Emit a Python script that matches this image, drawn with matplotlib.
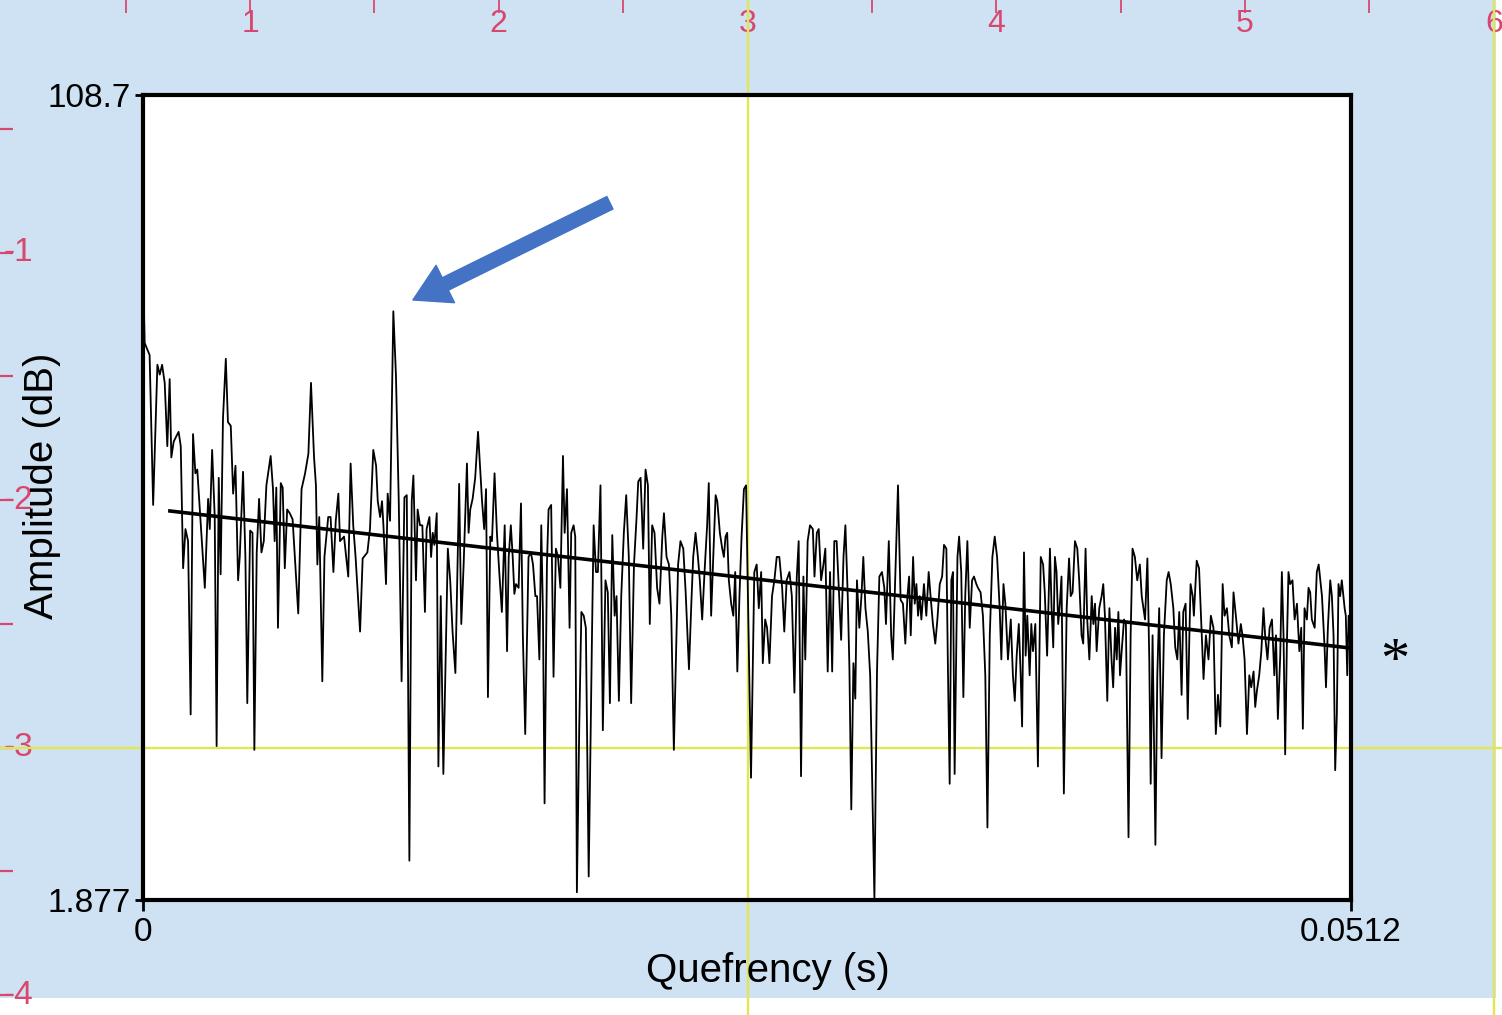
import matplotlib
matplotlib.use("Agg")
import matplotlib.pyplot as plt
import matplotlib.transforms as mtransforms
from matplotlib.patches import Rectangle
import numpy as np

plt.rcParams['font.family'] = ['Liberation Sans', 'DejaVu Sans']

# cepstrum trace (quefrency in ms, amplitude in dB)
quefrency_ms = [
    0.00, 0.07, 0.28, 0.43, 0.61, 0.71, 0.81, 0.92, 1.03, 1.13,
    1.20, 1.30, 1.41, 1.51, 1.60, 1.70, 1.80, 1.91, 2.02, 2.12,
    2.22, 2.30, 2.47, 2.62, 2.76, 2.83, 2.93, 3.04, 3.12, 3.21,
    3.29, 3.39, 3.51, 3.60, 3.72, 3.82, 3.92, 4.03, 4.10, 4.24,
    4.34, 4.42, 4.54, 4.64, 4.72, 4.82, 4.92, 5.02, 5.12, 5.23,
    5.41, 5.51, 5.58, 5.65, 5.72, 5.84, 5.92, 6.01, 6.11, 6.22,
    6.34, 6.58, 6.72, 6.87, 7.01, 7.12, 7.25, 7.33, 7.39, 7.47,
    7.60, 7.69, 7.85, 7.95, 8.07, 8.17, 8.28, 8.35, 8.52, 8.70,
    8.80, 8.91, 9.01, 9.20, 9.31, 9.51, 9.62, 9.76, 9.88, 9.95,
    10.05, 10.13, 10.19, 10.30, 10.37, 10.47, 10.61, 10.72, 10.84, 10.96,
    11.08, 11.18, 11.29, 11.39, 11.46, 11.57, 11.64, 11.74, 11.84, 11.95,
    12.02, 12.14, 12.21, 12.28, 12.35, 12.45, 12.52, 12.62, 12.73,
    12.92, 13.02, 13.12, 13.24, 13.40, 13.49, 13.59, 13.73, 13.80, 13.87,
    13.97, 14.08, 14.20, 14.29, 14.37, 14.46, 14.54, 14.62, 14.72, 14.79,
    14.90, 15.00, 15.10, 15.21, 15.33, 15.43, 15.50, 15.59, 15.67, 15.74,
    15.81, 15.92, 16.02, 16.10, 16.20, 16.34, 16.44, 16.53, 16.63, 16.70,
    16.80, 16.88, 16.95, 17.02, 17.12, 17.19, 17.30, 17.40, 17.50, 17.59,
    17.69, 17.80, 17.87, 17.97, 18.08, 18.15, 18.25, 18.32, 18.39, 18.49,
    18.58, 18.68, 18.77, 18.89, 19.03, 19.10, 19.20,
    19.28, 19.39, 19.49, 19.60, 19.70, 19.79, 19.89, 19.99, 20.07, 20.17,
    20.27, 20.38, 20.48, 20.59, 20.69, 20.81, 20.92, 20.99, 21.09, 21.20,
    21.30, 21.40, 21.48, 21.58, 21.68, 21.79, 21.89, 22.01, 22.08, 22.19,
    22.29, 22.39, 22.50, 22.68, 22.78, 22.90, 23.00, 23.14, 23.24, 23.32,
    23.42, 23.52, 23.60, 23.70, 23.80, 23.91, 23.98, 24.08, 24.17, 24.27,
    24.34, 24.45, 24.55, 24.62, 24.69, 24.76, 24.83, 24.93, 25.02, 25.10,
    25.19, 25.28, 25.37, 25.47,
    25.56, 25.77, 25.91, 26.01, 26.10, 26.20, 26.27, 26.37, 26.45, 26.55,
    26.66, 26.76, 26.86, 26.97, 27.09, 27.18, 27.28, 27.40, 27.50, 27.61,
    27.71, 27.79, 27.89, 27.99, 28.07, 28.17, 28.27, 28.39, 28.46, 28.56,
    28.64, 28.74, 28.84, 28.92, 29.02, 29.12, 29.21, 29.30, 29.40, 29.49,
    29.59, 29.69, 29.77, 29.87, 29.94, 30.02, 30.11, 30.19, 30.26, 30.36,
    30.45, 30.53, 30.62, 30.72, 30.82, 31.00, 31.11, 31.21, 31.32, 31.42,
    31.49, 31.61, 31.71, 31.78, 31.89,
    32.00, 32.11, 32.21, 32.31, 32.40, 32.47, 32.54, 32.64, 32.71, 32.78,
    32.85, 32.92, 32.99, 33.10, 33.20, 33.30, 33.38, 33.48, 33.58, 33.67,
    33.77, 33.87, 33.95, 34.05, 34.12, 34.19, 34.26, 34.33, 34.40, 34.52,
    34.59, 34.68, 34.77, 34.85, 34.94, 35.04, 35.14, 35.22, 35.32, 35.39,
    35.50, 35.60, 35.70, 35.79, 35.89, 36.00, 36.10, 36.20, 36.31, 36.38,
    36.47, 36.55, 36.66, 36.78, 36.87, 36.95, 37.03, 37.12, 37.20, 37.26,
    37.34, 37.41, 37.48, 37.58, 37.65, 37.72, 37.82, 37.93, 38.05, 38.15,
    38.22, 38.32,
    38.44, 38.51, 38.58, 38.65, 38.72, 38.79, 38.86, 38.93, 39.03, 39.15,
    39.25, 39.32, 39.40, 39.50, 39.60, 39.68, 39.78, 39.85, 39.95, 40.02,
    40.11, 40.21, 40.28, 40.35, 40.42, 40.53, 40.63, 40.70, 40.77, 40.87,
    40.96, 41.05, 41.12, 41.20, 41.27, 41.34, 41.41, 41.48, 41.58, 41.66,
    41.77, 41.86, 41.94, 42.04, 42.14, 42.25, 42.33, 42.40, 42.47, 42.57,
    42.65, 42.71, 42.79, 42.91, 42.99, 43.07, 43.17, 43.27, 43.39, 43.47,
    43.56, 43.67, 43.75, 43.84, 43.92, 44.02, 44.09, 44.19, 44.28, 44.35,
    44.40, 44.49, 44.54, 44.66, 44.76, 44.83,
    44.95, 45.05, 45.16, 45.26, 45.37, 45.47, 45.56, 45.66, 45.76, 45.84,
    45.94, 46.04, 46.15, 46.22, 46.32, 46.43, 46.53, 46.60, 46.69, 46.79,
    46.89, 46.97, 47.07, 47.14, 47.21, 47.31, 47.40, 47.49, 47.56, 47.66,
    47.75, 47.85, 47.95, 48.02, 48.10, 48.20, 48.27, 48.34, 48.41, 48.48,
    48.55, 48.62, 48.72, 48.81, 48.91, 49.01, 49.09, 49.16, 49.23, 49.33,
    49.40, 49.47, 49.54, 49.66, 49.75, 49.83, 49.90, 49.97, 50.08, 50.14,
    50.22, 50.32, 50.39, 50.46, 50.53, 50.60, 50.67, 50.74, 50.81, 50.93,
    50.98, 51.04, 51.10, 51.20,
]
amplitude_db = [
    86.0, 75.8, 74.2, 54.3, 72.9, 71.6, 72.9, 70.5, 62.1, 71.0,
    60.6, 62.7, 63.4, 64.0, 62.1, 45.9, 51.1, 49.5, 26.5, 63.7,
    58.5, 59.0, 50.6, 43.3, 55.1, 51.1, 61.6, 52.7, 22.3, 57.9,
    45.1, 65.8, 73.7, 65.3, 64.8, 55.8, 59.5, 44.3, 47.4, 58.7,
    47.4, 28.0, 50.9, 50.6, 21.8, 48.0, 55.1, 48.0, 49.5, 56.9,
    60.8, 56.4, 49.5, 56.6, 38.0, 57.2, 56.6, 45.9, 53.7, 53.2,
    52.4, 39.9, 56.4, 58.5, 61.1, 70.5, 60.6, 56.9, 46.4, 52.7,
    30.9, 47.4, 52.7, 52.7, 45.4, 52.2, 55.8, 49.5, 50.1, 44.8,
    59.8, 51.6, 47.4, 37.5, 47.2, 48.0, 51.1, 61.6, 59.5, 54.8,
    52.7, 54.8, 51.6, 43.8, 55.8, 52.2, 80.0, 71.6, 54.8, 30.9,
    55.3, 55.6, 7.1, 54.8, 58.2, 44.3, 53.7, 51.6, 51.6, 40.1,
    51.1, 52.7, 47.4, 50.6, 49.0, 53.2, 19.6, 42.2, 18.6,
    48.5, 44.3, 37.5, 32.0, 57.1, 38.5, 46.4, 59.8, 50.6, 53.7,
    55.1, 57.9, 64.0, 59.0, 54.8, 51.1, 56.4, 28.8, 50.1, 49.5,
    58.5, 50.6, 45.4, 40.1, 51.6, 34.9, 47.4, 51.6, 47.4, 42.5,
    43.8, 43.3, 54.5, 37.0, 23.9, 47.4, 48.0, 46.4, 42.2, 42.2,
    33.8, 51.6, 40.1, 14.7, 46.4, 53.7, 54.3, 31.5, 48.5, 47.4,
    43.3, 60.8, 50.6, 56.4, 38.0, 50.6, 51.6, 50.1, 2.9, 24.9,
    40.1, 39.6, 38.0, 5.0, 37.0, 51.6, 45.4,
    45.4, 56.9, 24.4, 44.3, 42.7, 28.0, 50.3, 39.6, 42.2, 28.3,
    42.2, 50.6, 55.6, 47.4, 28.0, 46.4, 52.7, 57.4, 57.9, 48.5,
    59.0, 56.9, 38.5, 51.6, 50.6, 43.3, 41.2, 50.1, 53.2, 47.4,
    46.4, 39.6, 21.8, 46.4, 49.5, 48.5, 42.7, 32.5, 41.2, 47.4,
    50.6, 47.4, 44.3, 39.1, 45.4, 51.6, 57.2, 39.6, 47.4, 55.6,
    54.8, 50.6, 48.5, 47.4, 50.1, 50.6, 44.3, 41.2, 39.6, 45.4,
    32.2, 42.2, 50.1, 56.4,
    56.9, 18.1, 45.4, 46.4, 40.6, 45.4, 33.3, 39.1, 38.0, 33.3,
    42.2, 44.3, 47.4, 47.4, 43.3, 37.5, 44.3, 45.4, 42.2, 29.4,
    44.8, 49.5, 18.3, 44.8, 33.8, 49.5, 51.6, 51.1, 44.8, 50.6,
    51.1, 44.3, 46.4, 48.5, 32.2, 45.4, 32.2, 49.5, 49.5, 43.3,
    36.4, 47.4, 51.6, 42.2, 32.8, 13.9, 33.3, 28.6, 44.3, 38.0,
    42.2, 47.4, 40.6, 37.5, 31.7, 2.1, 32.2, 44.8, 45.4, 43.3,
    38.5, 49.5, 37.0, 33.8, 45.4,
    56.9, 41.7, 41.2, 35.9, 42.2, 44.8, 37.0, 47.4, 41.2, 43.8,
    39.6, 42.2, 39.1, 43.8, 39.6, 45.4, 42.2, 38.5, 35.9, 39.1,
    43.8, 44.8, 49.0, 48.5, 31.7, 17.3, 44.3, 45.4, 18.6, 47.4,
    50.1, 45.4, 28.8, 42.2, 49.5, 38.0, 44.3, 44.8, 43.8, 43.3,
    42.7, 39.6, 31.7, 11.5, 37.0, 47.4, 50.1, 47.4, 40.6, 33.8,
    43.8, 41.2, 33.8, 39.1, 31.7, 28.3, 34.3, 38.5, 31.7, 24.9,
    48.0, 34.3, 39.6, 31.7, 38.5, 34.9, 38.5, 19.6, 47.4, 46.4,
    42.7, 34.3,
    48.5, 40.6, 35.4, 47.4, 45.4, 38.5, 41.2, 44.8, 16.0, 40.6,
    47.2, 42.2, 42.7, 49.5, 48.5, 44.3, 37.0, 35.9, 48.5, 39.1,
    33.8, 42.2, 38.5, 41.2, 34.9, 40.6, 42.2, 43.8, 39.6, 28.3,
    40.6, 33.8, 30.1, 38.0, 33.8, 40.1, 31.7, 34.9, 39.1, 38.5,
    10.2, 37.0, 48.5, 47.4, 44.3, 46.4, 42.2, 40.6, 39.1, 47.2,
    33.8, 17.3, 37.0, 9.2, 31.7, 40.6, 20.7, 37.0, 44.3, 45.4,
    43.8, 40.6, 35.4, 33.8, 40.1, 29.1, 40.1, 41.2, 25.9, 37.0,
    43.8, 42.2, 39.6, 46.9, 45.9, 40.6,
    31.2, 37.0, 33.8, 39.6, 38.0, 23.9, 29.1, 24.9, 43.8, 39.6,
    40.6, 37.0, 35.4, 42.7, 39.6, 35.9, 38.5, 37.0, 33.8, 23.9,
    31.7, 30.1, 32.2, 27.5, 29.6, 31.7, 34.9, 40.6, 37.0, 33.8,
    38.0, 39.1, 31.7, 37.0, 25.9, 34.3, 45.4, 37.0, 21.2, 35.4,
    45.4, 43.8, 44.3, 39.1, 41.2, 34.9, 38.0, 24.6, 40.6, 39.1,
    43.3, 42.7, 39.1, 38.0, 45.4, 46.4, 44.3, 42.2, 35.4, 30.1,
    38.0, 44.3, 42.2, 37.0, 19.1, 26.5, 43.8, 42.2, 44.3, 40.6,
    39.6, 31.7, 39.6, 38.0,
]

# regression line
trend_ms = [1.14, 51.2]
trend_db = [53.5, 35.3]

# arrow pointing to the cepstral peak (tip, tail)
arrow_tip = (11.44, 81.5)
arrow_tail = (19.79, 94.4)

x_limits = [0, 0.0512]
y_limits = [1.877, 108.7]
x_tick_labels = ["0", "0.0512"]
y_tick_labels = ["1.877", "108.7"]

# measuring grid overlaid on the figure
grid_x_labels = [1, 2, 3, 4, 5, 6]
grid_x_marks = [0.5, 1, 1.5, 2, 2.5, 3, 3.5, 4, 4.5, 5, 5.5, 6]
grid_y_labels = [-1, -2, -3, -4]
grid_y_marks = [-0.5, -1, -1.5, -2, -2.5, -3, -3.5, -4]
guide_x = [3, 6]
guide_y = [-3]

red = '#d8486e'
yellow = '#e2e650'
blue_bg = '#cfe2f3'

fig = plt.figure(figsize=(15.02, 10.15), dpi=100)

bg = fig.add_axes([0, 0, 1, 1])
bg.set_xlim(-0.005, 6.033)
bg.set_ylim(-4.08, 0.02)
bg.set_facecolor('white')
bg.add_patch(Rectangle((0, 17 / 1015), 1496 / 1502, 998 / 1015, transform=bg.transAxes,
                       facecolor=blue_bg, edgecolor='none', zorder=0))
for s in bg.spines.values():
    s.set_visible(False)
bg.set_xticks(grid_x_marks)
bg.set_yticks(grid_y_marks)
bg.tick_params(axis='x', top=True, bottom=False, direction='in', length=9, width=1.3,
               color=red, labelbottom=False, labeltop=False)
bg.tick_params(axis='y', left=True, right=False, direction='in', length=9, width=1.6,
               color=red, labelleft=False)
tx = mtransforms.blended_transform_factory(bg.transData, bg.transAxes)
for v in grid_x_labels:
    bg.text(v, 0.991, str(v), transform=tx, ha='center', va='top', fontsize=23, color=red)
ty = mtransforms.blended_transform_factory(bg.transAxes, bg.transData)
for v in grid_y_labels:
    bg.text(0.002, v, str(v), transform=ty, ha='left', va='center', fontsize=24, color=red)

ax = fig.add_axes([143 / 1502, 115 / 1015, 1208 / 1502, 805 / 1015], zorder=2)
ax.set_facecolor('white')

for gx in guide_x:
    ax.plot([gx, gx], [-4.08, 0.02], transform=bg.transData, clip_on=False,
            color=yellow, lw=1.7, zorder=1)
for gy in guide_y:
    ax.plot([-0.005, 6.033], [gy, gy], transform=bg.transData, clip_on=False,
            color=yellow, lw=1.7, zorder=1)

q = np.array(quefrency_ms) / 1000
ax.plot(q, amplitude_db, color='black', lw=1.3, zorder=3)
ax.plot(np.array(trend_ms) / 1000, trend_db, color='black', lw=2.6, zorder=4)

ax.annotate("", xy=(arrow_tip[0] / 1000, arrow_tip[1]),
            xytext=(arrow_tail[0] / 1000, arrow_tail[1]),
            arrowprops=dict(arrowstyle="simple,head_length=2.6,head_width=3.0,tail_width=1.0",
                            mutation_scale=10, color='#4472c4', shrinkA=0, shrinkB=0),
            zorder=5)

ax.set_xlim(x_limits)
ax.set_ylim(y_limits)
ax.set_xticks(x_limits)
ax.set_xticklabels(x_tick_labels)
ax.set_yticks(y_limits)
ax.set_yticklabels(y_tick_labels)
ax.tick_params(axis='x', length=8, width=2, labelsize=24, pad=4)
ax.tick_params(axis='y', length=6, width=2, labelsize=24, pad=3)
for s in ax.spines.values():
    s.set_linewidth(3)
    s.set_color('black')

ax.set_xlabel("Quefrency (s)", fontsize=29)
ax.xaxis.set_label_coords(0.517, -0.064)
ax.set_ylabel("Amplitude (dB)", fontsize=29)
ax.yaxis.set_label_coords(-0.068, 0.515)

ax.text(1.0364, 0.294, "*", transform=ax.transAxes, fontsize=42,
        family=['Liberation Serif', 'DejaVu Serif'], ha='center', va='center')

fig.savefig("out.png", dpi=100)
